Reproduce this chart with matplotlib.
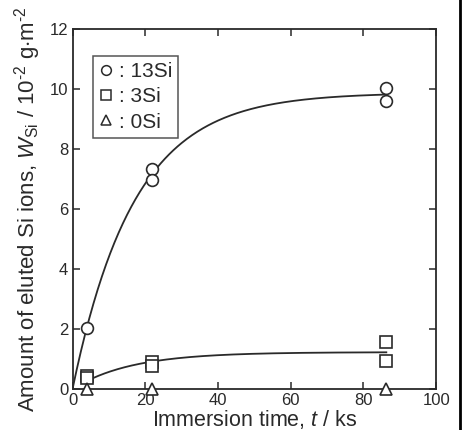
import numpy as np
import matplotlib
matplotlib.use('Agg')
import matplotlib.pyplot as plt
from matplotlib.lines import Line2D

plt.rcParams['font.family'] = ['Liberation Sans', 'DejaVu Sans']
plt.rcParams['mathtext.fontset'] = 'custom'
plt.rcParams['mathtext.rm'] = 'Liberation Sans'
plt.rcParams['mathtext.it'] = 'Liberation Sans:italic'

# Данные (чтение с рисунка)
t_13si = [3.85, 21.8, 21.8, 86.3, 86.3]
w_13si = [2.03, 7.33, 6.97, 10.03, 9.60]
t_3si = [3.85, 3.85, 21.8, 21.8, 86.3, 86.3]
w_3si = [0.43, 0.36, 0.90, 0.78, 1.57, 0.93]
t_0si = [3.85, 21.8, 86.3]
w_0si = [0.0, 0.0, 0.0]


def fit_exp(t, w):
    # подгонка W = A * (1 - exp(-t / tau)) по сетке tau
    t = np.asarray(t)
    w = np.asarray(w)
    best = None
    for tau in np.linspace(2, 60, 2000):
        f = 1 - np.exp(-t / tau)
        a = (w * f).sum() / (f * f).sum()
        r = ((w - a * f) ** 2).sum()
        if best is None or r < best[0]:
            best = (r, a, tau)
    return best[1], best[2]


c = '#2a2a2a'
fig = plt.figure(figsize=(4.62, 4.30), dpi=100)
ax = fig.add_axes([0.157, 0.0953, 0.787, 0.8373])

a13, tau13 = fit_exp(t_13si, w_13si)
tt = np.linspace(0, 86.3, 300)
ax.plot(tt, a13 * (1 - np.exp(-tt / tau13)), color=c, lw=1.3, zorder=2)

a3, tau3 = fit_exp(t_3si, w_3si)
tt3 = np.linspace(3.85, 86.3, 300)
ax.plot(tt3, a3 * (1 - np.exp(-tt3 / tau3)), color=c, lw=1.3, zorder=2)

mk = dict(mfc='white', mec=c, mew=1.2, ms=8.5, ls='none', zorder=3, clip_on=False)
ax.plot(t_13si, w_13si, marker='o', **mk)
ax.plot(t_3si, w_3si, marker='s', **mk)
ax.plot(t_0si, w_0si, marker='^', **mk)

ax.set_xlim(0, 100)
ax.set_ylim(0, 12)
ax.set_xticks([0, 20, 40, 60, 80, 100])
ax.set_yticks([0, 2, 4, 6, 8, 10, 12])
ax.tick_params(direction='in', top=True, right=True, length=5, width=1.1,
               labelsize=12, pad=3, colors=c)
for s in ax.spines.values():
    s.set_color(c)
    s.set_linewidth(1.3)

ax.set_xlabel('Immersion time, $t$ / ks', fontsize=15.5, color=c, labelpad=0)
ax.set_ylabel('Amount of eluted Si ions, $W_{\\mathrm{Si}}$ / 10$^{\u20102}$ g$\\cdot$m$^{\u20102}$',
              fontsize=16, color=c, labelpad=5)

handles = [Line2D([], [], marker=m, mfc='white', mec=c, mew=1.1, ms=7, ls='none')
           for m in ['o', 's', '^']]
leg = ax.legend(handles, [': 13Si', ': 3Si', ': 0Si'], loc='upper left',
                bbox_to_anchor=(0.055, 0.925), fontsize=15, frameon=True,
                fancybox=False, handlelength=0.7, handletextpad=0.25,
                borderpad=0.3, labelspacing=0.3, borderaxespad=0)
leg.get_frame().set_edgecolor(c)
leg.get_frame().set_linewidth(1.1)
for txt in leg.get_texts():
    txt.set_color(c)

# рамка справа, как на исходном скане
fig.add_artist(Line2D([0.995, 0.995], [0, 1], color='black', lw=2,
                      transform=fig.transFigure))

fig.savefig('out.png', dpi=100)
